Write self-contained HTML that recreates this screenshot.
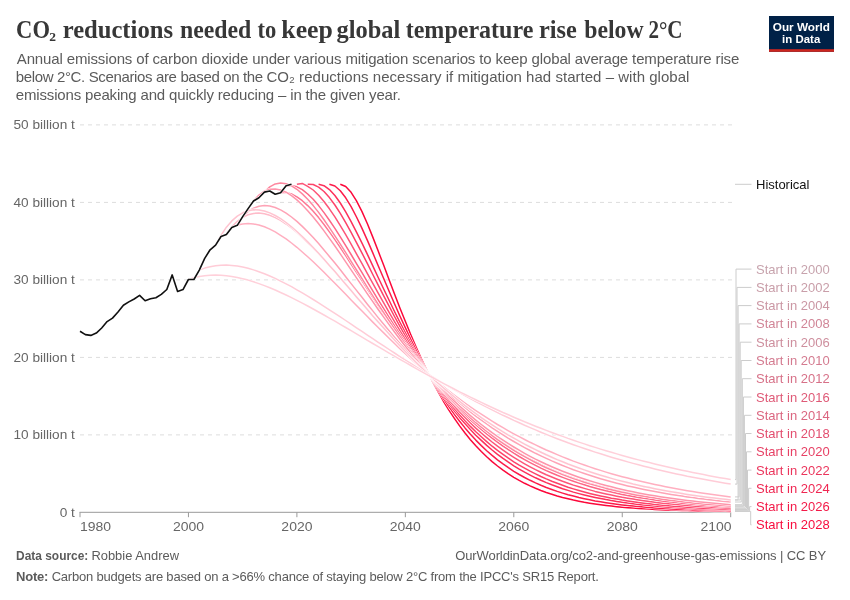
<!DOCTYPE html><html><head><meta charset="utf-8"><title>CO₂ reductions needed to keep global temperature rise below 2°C</title>
<style>html,body{margin:0;padding:0;background:#fff}svg{display:block}text{font-family:"Liberation Sans",sans-serif}.t{font-family:"Liberation Serif",serif;font-weight:700}</style></head><body>
<svg width="850" height="600" viewBox="0 0 850 600">
<rect width="850" height="600" fill="#fff"/>
<text class="t" font-size="24.7" fill="#373737"><tspan x="16.12" y="37.5" textLength="33.82" lengthAdjust="spacingAndGlyphs">CO</tspan><tspan x="49.2" y="41" font-size="13.5">2</tspan> <tspan x="62.67" y="37.5" textLength="110.32" lengthAdjust="spacingAndGlyphs">reductions</tspan> <tspan x="179.91" y="37.5" textLength="71.39" lengthAdjust="spacingAndGlyphs">needed</tspan> <tspan x="257.46" y="37.5" textLength="18.78" lengthAdjust="spacingAndGlyphs">to</tspan> <tspan x="281.33" y="37.5" textLength="51.55" lengthAdjust="spacingAndGlyphs">keep</tspan> <tspan x="336.48" y="37.5" textLength="63.82" lengthAdjust="spacingAndGlyphs">global</tspan> <tspan x="405.70" y="37.5" textLength="127.70" lengthAdjust="spacingAndGlyphs">temperature</tspan> <tspan x="538.89" y="37.5" textLength="37.83" lengthAdjust="spacingAndGlyphs">rise</tspan> <tspan x="584.30" y="37.5" textLength="59.30" lengthAdjust="spacingAndGlyphs">below</tspan> <tspan x="648.42" y="37.5" textLength="34.18" lengthAdjust="spacingAndGlyphs">2°C</tspan></text>
<text x="16.8" y="63.5" font-size="15" fill="#5b5b5b" letter-spacing="-0.135">Annual emissions of carbon dioxide under various mitigation scenarios to keep global average temperature rise</text>
<text x="15.8" y="81.5" font-size="15" fill="#5b5b5b" letter-spacing="-0.360">below 2°C. Scenarios are based on the</text>
<text x="266.5" y="81.5" font-size="15" fill="#5b5b5b" letter-spacing="0.030">CO₂ reductions necessary if mitigation had started – with global</text>
<text x="15.8" y="99.5" font-size="15" fill="#5b5b5b" letter-spacing="-0.160">emissions peaking and quickly reducing – in the given year.</text>
<rect x="769" y="16" width="65" height="35.8" fill="#002147"/><rect x="769" y="49.2" width="65" height="2.6" fill="#ce261e"/>
<text x="772.78" y="30.6" font-size="11.5" font-weight="700" fill="#fff" textLength="57.26" lengthAdjust="spacingAndGlyphs">Our World</text>
<text x="782.11" y="42.75" font-size="11.5" font-weight="700" fill="#fff" textLength="38.14" lengthAdjust="spacingAndGlyphs">in Data</text>
<line x1="80" x2="733" y1="434.90" y2="434.90" stroke="#ddd" stroke-width="1" stroke-dasharray="4,4"/>
<line x1="80" x2="733" y1="357.40" y2="357.40" stroke="#ddd" stroke-width="1" stroke-dasharray="4,4"/>
<line x1="80" x2="733" y1="279.90" y2="279.90" stroke="#ddd" stroke-width="1" stroke-dasharray="4,4"/>
<line x1="80" x2="733" y1="202.40" y2="202.40" stroke="#ddd" stroke-width="1" stroke-dasharray="4,4"/>
<line x1="80" x2="733" y1="124.90" y2="124.90" stroke="#ddd" stroke-width="1" stroke-dasharray="4,4"/>
<text x="59.71" y="516.7" font-size="13" fill="#666" textLength="15.19" lengthAdjust="spacingAndGlyphs">0 t</text>
<text x="13.42" y="439.2" font-size="13" fill="#666" textLength="61.48" lengthAdjust="spacingAndGlyphs">10 billion t</text>
<text x="13.42" y="361.7" font-size="13" fill="#666" textLength="61.48" lengthAdjust="spacingAndGlyphs">20 billion t</text>
<text x="13.42" y="284.2" font-size="13" fill="#666" textLength="61.48" lengthAdjust="spacingAndGlyphs">30 billion t</text>
<text x="13.42" y="206.7" font-size="13" fill="#666" textLength="61.48" lengthAdjust="spacingAndGlyphs">40 billion t</text>
<text x="13.42" y="129.2" font-size="13" fill="#666" textLength="61.48" lengthAdjust="spacingAndGlyphs">50 billion t</text>
<line x1="79.5" x2="731" y1="512.3" y2="512.3" stroke="#999" stroke-width="1"/>
<line x1="80.00" x2="80.00" y1="512.3" y2="517.2" stroke="#999" stroke-width="1"/>
<text x="80.00" y="530.5" font-size="13" fill="#666" textLength="31.09" lengthAdjust="spacingAndGlyphs">1980</text>
<line x1="188.45" x2="188.45" y1="512.3" y2="517.2" stroke="#999" stroke-width="1"/>
<text x="172.91" y="530.5" font-size="13" fill="#666" textLength="31.09" lengthAdjust="spacingAndGlyphs">2000</text>
<line x1="296.90" x2="296.90" y1="512.3" y2="517.2" stroke="#999" stroke-width="1"/>
<text x="281.36" y="530.5" font-size="13" fill="#666" textLength="31.09" lengthAdjust="spacingAndGlyphs">2020</text>
<line x1="405.35" x2="405.35" y1="512.3" y2="517.2" stroke="#999" stroke-width="1"/>
<text x="389.81" y="530.5" font-size="13" fill="#666" textLength="31.09" lengthAdjust="spacingAndGlyphs">2040</text>
<line x1="513.80" x2="513.80" y1="512.3" y2="517.2" stroke="#999" stroke-width="1"/>
<text x="498.26" y="530.5" font-size="13" fill="#666" textLength="31.09" lengthAdjust="spacingAndGlyphs">2060</text>
<line x1="622.25" x2="622.25" y1="512.3" y2="517.2" stroke="#999" stroke-width="1"/>
<text x="606.71" y="530.5" font-size="13" fill="#666" textLength="31.09" lengthAdjust="spacingAndGlyphs">2080</text>
<line x1="730.70" x2="730.70" y1="512.3" y2="517.2" stroke="#999" stroke-width="1"/>
<text x="700.51" y="530.5" font-size="13" fill="#666" textLength="31.09" lengthAdjust="spacingAndGlyphs">2100</text>
<polyline fill="none" stroke="#fff" stroke-width="2.5" stroke-linejoin="round" stroke-linecap="butt" points="340.3,184.3 345.7,186.5 351.1,192.3 356.5,200.9 362.0,211.6 367.4,223.8 372.8,237.1 378.2,251.1 383.7,265.3 389.1,279.7 394.5,294.0 399.9,308.0 405.4,321.5 410.8,334.7 416.2,347.2 421.6,359.2 427.0,370.6 432.5,381.4 437.9,391.5 443.3,401.0 448.7,409.8 454.2,418.1 459.6,425.9 465.0,433.0 470.4,439.7 475.8,445.8 481.3,451.5 486.7,456.7 492.1,461.6 497.5,466.0 503.0,470.1 508.4,473.8 513.8,477.3 519.2,480.4 524.6,483.3 530.1,485.9 535.5,488.3 540.9,490.5 546.3,492.5 551.8,494.3 557.2,496.0 562.6,497.5 568.0,498.8 573.4,500.1 578.9,501.2 584.3,502.3 589.7,503.2 595.1,504.0 600.6,504.8 606.0,505.5 611.4,506.1 616.8,506.7 622.2,507.2 627.7,507.7 633.1,508.1 638.5,508.5 643.9,508.8 649.4,509.1 654.8,509.4 660.2,509.7 665.6,509.9 671.1,510.1 676.5,510.3 681.9,510.5 687.3,510.6 692.7,510.8 698.2,510.9 703.6,511.0 709.0,511.1 714.4,511.2 719.9,511.3 725.3,511.3 730.7,511.4"/>
<polyline fill="none" stroke="#fc083a" stroke-width="1.5" stroke-linejoin="round" stroke-linecap="butt" points="340.3,184.3 345.7,186.5 351.1,192.3 356.5,200.9 362.0,211.6 367.4,223.8 372.8,237.1 378.2,251.1 383.7,265.3 389.1,279.7 394.5,294.0 399.9,308.0 405.4,321.5 410.8,334.7 416.2,347.2 421.6,359.2 427.0,370.6 432.5,381.4 437.9,391.5 443.3,401.0 448.7,409.8 454.2,418.1 459.6,425.9 465.0,433.0 470.4,439.7 475.8,445.8 481.3,451.5 486.7,456.7 492.1,461.6 497.5,466.0 503.0,470.1 508.4,473.8 513.8,477.3 519.2,480.4 524.6,483.3 530.1,485.9 535.5,488.3 540.9,490.5 546.3,492.5 551.8,494.3 557.2,496.0 562.6,497.5 568.0,498.8 573.4,500.1 578.9,501.2 584.3,502.3 589.7,503.2 595.1,504.0 600.6,504.8 606.0,505.5 611.4,506.1 616.8,506.7 622.2,507.2 627.7,507.7 633.1,508.1 638.5,508.5 643.9,508.8 649.4,509.1 654.8,509.4 660.2,509.7 665.6,509.9 671.1,510.1 676.5,510.3 681.9,510.5 687.3,510.6 692.7,510.8 698.2,510.9 703.6,511.0 709.0,511.1 714.4,511.2 719.9,511.3 725.3,511.3 730.7,511.4"/>
<polyline fill="none" stroke="#fff" stroke-width="2.5" stroke-linejoin="round" stroke-linecap="butt" points="329.4,184.3 334.9,186.0 340.3,190.7 345.7,197.8 351.1,206.7 356.5,217.0 362.0,228.4 367.4,240.4 372.8,252.9 378.2,265.7 383.7,278.5 389.1,291.2 394.5,303.7 399.9,316.0 405.4,327.9 410.8,339.4 416.2,350.4 421.6,361.0 427.0,371.1 432.5,380.7 437.9,389.8 443.3,398.3 448.7,406.4 454.2,414.1 459.6,421.2 465.0,427.9 470.4,434.2 475.8,440.1 481.3,445.6 486.7,450.7 492.1,455.4 497.5,459.8 503.0,463.9 508.4,467.7 513.8,471.3 519.2,474.5 524.6,477.5 530.1,480.3 535.5,482.9 540.9,485.3 546.3,487.5 551.8,489.5 557.2,491.4 562.6,493.1 568.0,494.7 573.4,496.1 578.9,497.5 584.3,498.7 589.7,499.8 595.1,500.9 600.6,501.8 606.0,502.7 611.4,503.5 616.8,504.2 622.2,504.9 627.7,505.5 633.1,506.1 638.5,506.6 643.9,507.1 649.4,507.5 654.8,507.9 660.2,508.3 665.6,508.6 671.1,508.9 676.5,509.2 681.9,509.4 687.3,509.6 692.7,509.9 698.2,510.0 703.6,510.2 709.0,510.4 714.4,510.5 719.9,510.7 725.3,510.8 730.7,510.9"/>
<polyline fill="none" stroke="#fc1c4a" stroke-width="1.5" stroke-linejoin="round" stroke-linecap="butt" points="329.4,184.3 334.9,186.0 340.3,190.7 345.7,197.8 351.1,206.7 356.5,217.0 362.0,228.4 367.4,240.4 372.8,252.9 378.2,265.7 383.7,278.5 389.1,291.2 394.5,303.7 399.9,316.0 405.4,327.9 410.8,339.4 416.2,350.4 421.6,361.0 427.0,371.1 432.5,380.7 437.9,389.8 443.3,398.3 448.7,406.4 454.2,414.1 459.6,421.2 465.0,427.9 470.4,434.2 475.8,440.1 481.3,445.6 486.7,450.7 492.1,455.4 497.5,459.8 503.0,463.9 508.4,467.7 513.8,471.3 519.2,474.5 524.6,477.5 530.1,480.3 535.5,482.9 540.9,485.3 546.3,487.5 551.8,489.5 557.2,491.4 562.6,493.1 568.0,494.7 573.4,496.1 578.9,497.5 584.3,498.7 589.7,499.8 595.1,500.9 600.6,501.8 606.0,502.7 611.4,503.5 616.8,504.2 622.2,504.9 627.7,505.5 633.1,506.1 638.5,506.6 643.9,507.1 649.4,507.5 654.8,507.9 660.2,508.3 665.6,508.6 671.1,508.9 676.5,509.2 681.9,509.4 687.3,509.6 692.7,509.9 698.2,510.0 703.6,510.2 709.0,510.4 714.4,510.5 719.9,510.7 725.3,510.8 730.7,510.9"/>
<polyline fill="none" stroke="#fff" stroke-width="2.5" stroke-linejoin="round" stroke-linecap="butt" points="318.6,184.3 324.0,185.7 329.4,189.6 334.9,195.5 340.3,203.0 345.7,211.8 351.1,221.6 356.5,232.1 362.0,243.1 367.4,254.4 372.8,265.9 378.2,277.5 383.7,289.0 389.1,300.3 394.5,311.5 399.9,322.3 405.4,332.9 410.8,343.1 416.2,353.0 421.6,362.4 427.0,371.5 432.5,380.1 437.9,388.4 443.3,396.2 448.7,403.6 454.2,410.7 459.6,417.4 465.0,423.6 470.4,429.6 475.8,435.2 481.3,440.4 486.7,445.4 492.1,450.0 497.5,454.3 503.0,458.4 508.4,462.2 513.8,465.8 519.2,469.1 524.6,472.2 530.1,475.1 535.5,477.8 540.9,480.3 546.3,482.6 551.8,484.8 557.2,486.8 562.6,488.7 568.0,490.4 573.4,492.1 578.9,493.6 584.3,495.0 589.7,496.3 595.1,497.5 600.6,498.6 606.0,499.6 611.4,500.6 616.8,501.5 622.2,502.3 627.7,503.0 633.1,503.7 638.5,504.4 643.9,505.0 649.4,505.5 654.8,506.0 660.2,506.5 665.6,506.9 671.1,507.3 676.5,507.7 681.9,508.1 687.3,508.4 692.7,508.7 698.2,508.9 703.6,509.2 709.0,509.4 714.4,509.6 719.9,509.8 725.3,510.0 730.7,510.1"/>
<polyline fill="none" stroke="#fd305a" stroke-width="1.5" stroke-linejoin="round" stroke-linecap="butt" points="318.6,184.3 324.0,185.7 329.4,189.6 334.9,195.5 340.3,203.0 345.7,211.8 351.1,221.6 356.5,232.1 362.0,243.1 367.4,254.4 372.8,265.9 378.2,277.5 383.7,289.0 389.1,300.3 394.5,311.5 399.9,322.3 405.4,332.9 410.8,343.1 416.2,353.0 421.6,362.4 427.0,371.5 432.5,380.1 437.9,388.4 443.3,396.2 448.7,403.6 454.2,410.7 459.6,417.4 465.0,423.6 470.4,429.6 475.8,435.2 481.3,440.4 486.7,445.4 492.1,450.0 497.5,454.3 503.0,458.4 508.4,462.2 513.8,465.8 519.2,469.1 524.6,472.2 530.1,475.1 535.5,477.8 540.9,480.3 546.3,482.6 551.8,484.8 557.2,486.8 562.6,488.7 568.0,490.4 573.4,492.1 578.9,493.6 584.3,495.0 589.7,496.3 595.1,497.5 600.6,498.6 606.0,499.6 611.4,500.6 616.8,501.5 622.2,502.3 627.7,503.0 633.1,503.7 638.5,504.4 643.9,505.0 649.4,505.5 654.8,506.0 660.2,506.5 665.6,506.9 671.1,507.3 676.5,507.7 681.9,508.1 687.3,508.4 692.7,508.7 698.2,508.9 703.6,509.2 709.0,509.4 714.4,509.6 719.9,509.8 725.3,510.0 730.7,510.1"/>
<polyline fill="none" stroke="#fff" stroke-width="2.5" stroke-linejoin="round" stroke-linecap="butt" points="307.7,184.3 313.2,184.5 318.6,187.1 324.0,191.5 329.4,197.6 334.9,205.0 340.3,213.4 345.7,222.6 351.1,232.3 356.5,242.6 362.0,253.1 367.4,263.7 372.8,274.5 378.2,285.2 383.7,295.8 389.1,306.2 394.5,316.5 399.9,326.4 405.4,336.1 410.8,345.5 416.2,354.6 421.6,363.3 427.0,371.7 432.5,379.8 437.9,387.4 443.3,394.8 448.7,401.8 454.2,408.4 459.6,414.7 465.0,420.7 470.4,426.4 475.8,431.8 481.3,436.8 486.7,441.6 492.1,446.2 497.5,450.4 503.0,454.4 508.4,458.2 513.8,461.8 519.2,465.1 524.6,468.2 530.1,471.2 535.5,473.9 540.9,476.5 546.3,478.9 551.8,481.2 557.2,483.3 562.6,485.3 568.0,487.2 573.4,488.9 578.9,490.5 584.3,492.0 589.7,493.4 595.1,494.7 600.6,495.9 606.0,497.1 611.4,498.2 616.8,499.1 622.2,500.1 627.7,500.9 633.1,501.7 638.5,502.5 643.9,503.2 649.4,503.8 654.8,504.4 660.2,504.9 665.6,505.5 671.1,505.9 676.5,506.4 681.9,506.8 687.3,507.2 692.7,507.5 698.2,507.9 703.6,508.2 709.0,508.5 714.4,508.7 719.9,509.0 725.3,509.2 730.7,509.4"/>
<polyline fill="none" stroke="#fd4369" stroke-width="1.5" stroke-linejoin="round" stroke-linecap="butt" points="307.7,184.3 313.2,184.5 318.6,187.1 324.0,191.5 329.4,197.6 334.9,205.0 340.3,213.4 345.7,222.6 351.1,232.3 356.5,242.6 362.0,253.1 367.4,263.7 372.8,274.5 378.2,285.2 383.7,295.8 389.1,306.2 394.5,316.5 399.9,326.4 405.4,336.1 410.8,345.5 416.2,354.6 421.6,363.3 427.0,371.7 432.5,379.8 437.9,387.4 443.3,394.8 448.7,401.8 454.2,408.4 459.6,414.7 465.0,420.7 470.4,426.4 475.8,431.8 481.3,436.8 486.7,441.6 492.1,446.2 497.5,450.4 503.0,454.4 508.4,458.2 513.8,461.8 519.2,465.1 524.6,468.2 530.1,471.2 535.5,473.9 540.9,476.5 546.3,478.9 551.8,481.2 557.2,483.3 562.6,485.3 568.0,487.2 573.4,488.9 578.9,490.5 584.3,492.0 589.7,493.4 595.1,494.7 600.6,495.9 606.0,497.1 611.4,498.2 616.8,499.1 622.2,500.1 627.7,500.9 633.1,501.7 638.5,502.5 643.9,503.2 649.4,503.8 654.8,504.4 660.2,504.9 665.6,505.5 671.1,505.9 676.5,506.4 681.9,506.8 687.3,507.2 692.7,507.5 698.2,507.9 703.6,508.2 709.0,508.5 714.4,508.7 719.9,509.0 725.3,509.2 730.7,509.4"/>
<polyline fill="none" stroke="#fff" stroke-width="2.5" stroke-linejoin="round" stroke-linecap="butt" points="296.9,184.3 302.3,183.4 307.7,186.3 313.2,190.0 318.6,195.2 324.0,201.5 329.4,208.8 334.9,216.9 340.3,225.6 345.7,234.7 351.1,244.2 356.5,253.9 362.0,263.7 367.4,273.6 372.8,283.4 378.2,293.2 383.7,302.9 389.1,312.4 394.5,321.6 399.9,330.7 405.4,339.5 410.8,348.1 416.2,356.4 421.6,364.3 427.0,372.0 432.5,379.4 437.9,386.5 443.3,393.3 448.7,399.8 454.2,406.1 459.6,412.0 465.0,417.6 470.4,423.0 475.8,428.1 481.3,433.0 486.7,437.6 492.1,442.0 497.5,446.2 503.0,450.1 508.4,453.8 513.8,457.3 519.2,460.7 524.6,463.8 530.1,466.8 535.5,469.6 540.9,472.2 546.3,474.7 551.8,477.0 557.2,479.2 562.6,481.3 568.0,483.2 573.4,485.1 578.9,486.8 584.3,488.4 589.7,489.9 595.1,491.4 600.6,492.7 606.0,493.9 611.4,495.1 616.8,496.2 622.2,497.3 627.7,498.2 633.1,499.1 638.5,500.0 643.9,500.8 649.4,501.5 654.8,502.2 660.2,502.9 665.6,503.5 671.1,504.1 676.5,504.6 681.9,505.1 687.3,505.6 692.7,506.0 698.2,506.4 703.6,506.8 709.0,507.1 714.4,507.5 719.9,507.8 725.3,508.1 730.7,508.3"/>
<polyline fill="none" stroke="#fd5578" stroke-width="1.5" stroke-linejoin="round" stroke-linecap="butt" points="296.9,184.3 302.3,183.4 307.7,186.3 313.2,190.0 318.6,195.2 324.0,201.5 329.4,208.8 334.9,216.9 340.3,225.6 345.7,234.7 351.1,244.2 356.5,253.9 362.0,263.7 367.4,273.6 372.8,283.4 378.2,293.2 383.7,302.9 389.1,312.4 394.5,321.6 399.9,330.7 405.4,339.5 410.8,348.1 416.2,356.4 421.6,364.3 427.0,372.0 432.5,379.4 437.9,386.5 443.3,393.3 448.7,399.8 454.2,406.1 459.6,412.0 465.0,417.6 470.4,423.0 475.8,428.1 481.3,433.0 486.7,437.6 492.1,442.0 497.5,446.2 503.0,450.1 508.4,453.8 513.8,457.3 519.2,460.7 524.6,463.8 530.1,466.8 535.5,469.6 540.9,472.2 546.3,474.7 551.8,477.0 557.2,479.2 562.6,481.3 568.0,483.2 573.4,485.1 578.9,486.8 584.3,488.4 589.7,489.9 595.1,491.4 600.6,492.7 606.0,493.9 611.4,495.1 616.8,496.2 622.2,497.3 627.7,498.2 633.1,499.1 638.5,500.0 643.9,500.8 649.4,501.5 654.8,502.2 660.2,502.9 665.6,503.5 671.1,504.1 676.5,504.6 681.9,505.1 687.3,505.6 692.7,506.0 698.2,506.4 703.6,506.8 709.0,507.1 714.4,507.5 719.9,507.8 725.3,508.1 730.7,508.3"/>
<polyline fill="none" stroke="#fff" stroke-width="2.5" stroke-linejoin="round" stroke-linecap="butt" points="286.1,185.8 291.5,185.4 296.9,186.8 302.3,189.7 307.7,194.0 313.2,199.3 318.6,205.6 324.0,212.6 329.4,220.2 334.9,228.3 340.3,236.8 345.7,245.6 351.1,254.5 356.5,263.6 362.0,272.7 367.4,281.8 372.8,290.9 378.2,299.8 383.7,308.7 389.1,317.4 394.5,325.9 399.9,334.1 405.4,342.2 410.8,350.1 416.2,357.7 421.6,365.0 427.0,372.1 432.5,379.0 437.9,385.6 443.3,391.9 448.7,398.0 454.2,403.9 459.6,409.5 465.0,414.8 470.4,419.9 475.8,424.8 481.3,429.5 486.7,434.0 492.1,438.2 497.5,442.2 503.0,446.1 508.4,449.7 513.8,453.2 519.2,456.5 524.6,459.6 530.1,462.6 535.5,465.4 540.9,468.1 546.3,470.6 551.8,473.0 557.2,475.3 562.6,477.4 568.0,479.4 573.4,481.3 578.9,483.1 584.3,484.8 589.7,486.5 595.1,488.0 600.6,489.4 606.0,490.8 611.4,492.0 616.8,493.2 622.2,494.4 627.7,495.5 633.1,496.5 638.5,497.4 643.9,498.3 649.4,499.1 654.8,499.9 660.2,500.7 665.6,501.4 671.1,502.0 676.5,502.6 681.9,503.2 687.3,503.8 692.7,504.3 698.2,504.8 703.6,505.2 709.0,505.6 714.4,506.0 719.9,506.4 725.3,506.8 730.7,507.1"/>
<polyline fill="none" stroke="#fd6786" stroke-width="1.5" stroke-linejoin="round" stroke-linecap="butt" points="286.1,185.8 291.5,185.4 296.9,186.8 302.3,189.7 307.7,194.0 313.2,199.3 318.6,205.6 324.0,212.6 329.4,220.2 334.9,228.3 340.3,236.8 345.7,245.6 351.1,254.5 356.5,263.6 362.0,272.7 367.4,281.8 372.8,290.9 378.2,299.8 383.7,308.7 389.1,317.4 394.5,325.9 399.9,334.1 405.4,342.2 410.8,350.1 416.2,357.7 421.6,365.0 427.0,372.1 432.5,379.0 437.9,385.6 443.3,391.9 448.7,398.0 454.2,403.9 459.6,409.5 465.0,414.8 470.4,419.9 475.8,424.8 481.3,429.5 486.7,434.0 492.1,438.2 497.5,442.2 503.0,446.1 508.4,449.7 513.8,453.2 519.2,456.5 524.6,459.6 530.1,462.6 535.5,465.4 540.9,468.1 546.3,470.6 551.8,473.0 557.2,475.3 562.6,477.4 568.0,479.4 573.4,481.3 578.9,483.1 584.3,484.8 589.7,486.5 595.1,488.0 600.6,489.4 606.0,490.8 611.4,492.0 616.8,493.2 622.2,494.4 627.7,495.5 633.1,496.5 638.5,497.4 643.9,498.3 649.4,499.1 654.8,499.9 660.2,500.7 665.6,501.4 671.1,502.0 676.5,502.6 681.9,503.2 687.3,503.8 692.7,504.3 698.2,504.8 703.6,505.2 709.0,505.6 714.4,506.0 719.9,506.4 725.3,506.8 730.7,507.1"/>
<polyline fill="none" stroke="#fff" stroke-width="2.5" stroke-linejoin="round" stroke-linecap="butt" points="275.2,194.3 280.6,192.5 286.1,192.5 291.5,194.0 296.9,196.8 302.3,200.7 307.7,205.6 313.2,211.3 318.6,217.6 324.0,224.5 329.4,231.9 334.9,239.6 340.3,247.5 345.7,255.7 351.1,264.0 356.5,272.4 362.0,280.7 367.4,289.1 372.8,297.4 378.2,305.7 383.7,313.8 389.1,321.7 394.5,329.5 399.9,337.2 405.4,344.6 410.8,351.9 416.2,358.9 421.6,365.8 427.0,372.4 432.5,378.8 437.9,385.0 443.3,390.9 448.7,396.7 454.2,402.2 459.6,407.5 465.0,412.6 470.4,417.5 475.8,422.2 481.3,426.7 486.7,431.0 492.1,435.1 497.5,439.0 503.0,442.8 508.4,446.4 513.8,449.8 519.2,453.1 524.6,456.2 530.1,459.1 535.5,461.9 540.9,464.6 546.3,467.1 551.8,469.6 557.2,471.9 562.6,474.1 568.0,476.1 573.4,478.1 578.9,480.0 584.3,481.7 589.7,483.4 595.1,485.0 600.6,486.5 606.0,487.9 611.4,489.3 616.8,490.6 622.2,491.8 627.7,492.9 633.1,494.0 638.5,495.0 643.9,496.0 649.4,496.9 654.8,497.8 660.2,498.6 665.6,499.4 671.1,500.1 676.5,500.8 681.9,501.4 687.3,502.1 692.7,502.6 698.2,503.2 703.6,503.7 709.0,504.2 714.4,504.6 719.9,505.1 725.3,505.5 730.7,505.9"/>
<polyline fill="none" stroke="#fe7793" stroke-width="1.5" stroke-linejoin="round" stroke-linecap="butt" points="275.2,194.3 280.6,192.5 286.1,192.5 291.5,194.0 296.9,196.8 302.3,200.7 307.7,205.6 313.2,211.3 318.6,217.6 324.0,224.5 329.4,231.9 334.9,239.6 340.3,247.5 345.7,255.7 351.1,264.0 356.5,272.4 362.0,280.7 367.4,289.1 372.8,297.4 378.2,305.7 383.7,313.8 389.1,321.7 394.5,329.5 399.9,337.2 405.4,344.6 410.8,351.9 416.2,358.9 421.6,365.8 427.0,372.4 432.5,378.8 437.9,385.0 443.3,390.9 448.7,396.7 454.2,402.2 459.6,407.5 465.0,412.6 470.4,417.5 475.8,422.2 481.3,426.7 486.7,431.0 492.1,435.1 497.5,439.0 503.0,442.8 508.4,446.4 513.8,449.8 519.2,453.1 524.6,456.2 530.1,459.1 535.5,461.9 540.9,464.6 546.3,467.1 551.8,469.6 557.2,471.9 562.6,474.1 568.0,476.1 573.4,478.1 578.9,480.0 584.3,481.7 589.7,483.4 595.1,485.0 600.6,486.5 606.0,487.9 611.4,489.3 616.8,490.6 622.2,491.8 627.7,492.9 633.1,494.0 638.5,495.0 643.9,496.0 649.4,496.9 654.8,497.8 660.2,498.6 665.6,499.4 671.1,500.1 676.5,500.8 681.9,501.4 687.3,502.1 692.7,502.6 698.2,503.2 703.6,503.7 709.0,504.2 714.4,504.6 719.9,505.1 725.3,505.5 730.7,505.9"/>
<polyline fill="none" stroke="#fff" stroke-width="2.5" stroke-linejoin="round" stroke-linecap="butt" points="264.4,192.1 269.8,186.9 275.2,183.9 280.6,182.9 286.1,183.7 291.5,185.9 296.9,189.3 302.3,193.9 307.7,199.3 313.2,205.6 318.6,212.4 324.0,219.8 329.4,227.6 334.9,235.8 340.3,244.1 345.7,252.6 351.1,261.3 356.5,270.0 362.0,278.6 367.4,287.3 372.8,295.8 378.2,304.3 383.7,312.6 389.1,320.8 394.5,328.7 399.9,336.5 405.4,344.1 410.8,351.5 416.2,358.7 421.6,365.6 427.0,372.4 432.5,378.8 437.9,385.1 443.3,391.1 448.7,396.9 454.2,402.5 459.6,407.9 465.0,413.0 470.4,418.0 475.8,422.7 481.3,427.2 486.7,431.5 492.1,435.6 497.5,439.6 503.0,443.3 508.4,446.9 513.8,450.4 519.2,453.6 524.6,456.7 530.1,459.7 535.5,462.5 540.9,465.2 546.3,467.7 551.8,470.1 557.2,472.4 562.6,474.6 568.0,476.6 573.4,478.6 578.9,480.4 584.3,482.2 589.7,483.9 595.1,485.4 600.6,486.9 606.0,488.4 611.4,489.7 616.8,491.0 622.2,492.2 627.7,493.3 633.1,494.4 638.5,495.4 643.9,496.3 649.4,497.2 654.8,498.1 660.2,498.9 665.6,499.7 671.1,500.4 676.5,501.1 681.9,501.7 687.3,502.3 692.7,502.9 698.2,503.4 703.6,503.9 709.0,504.4 714.4,504.8 719.9,505.3 725.3,505.7 730.7,506.0"/>
<polyline fill="none" stroke="#fe879f" stroke-width="1.5" stroke-linejoin="round" stroke-linecap="butt" points="264.4,192.1 269.8,186.9 275.2,183.9 280.6,182.9 286.1,183.7 291.5,185.9 296.9,189.3 302.3,193.9 307.7,199.3 313.2,205.6 318.6,212.4 324.0,219.8 329.4,227.6 334.9,235.8 340.3,244.1 345.7,252.6 351.1,261.3 356.5,270.0 362.0,278.6 367.4,287.3 372.8,295.8 378.2,304.3 383.7,312.6 389.1,320.8 394.5,328.7 399.9,336.5 405.4,344.1 410.8,351.5 416.2,358.7 421.6,365.6 427.0,372.4 432.5,378.8 437.9,385.1 443.3,391.1 448.7,396.9 454.2,402.5 459.6,407.9 465.0,413.0 470.4,418.0 475.8,422.7 481.3,427.2 486.7,431.5 492.1,435.6 497.5,439.6 503.0,443.3 508.4,446.9 513.8,450.4 519.2,453.6 524.6,456.7 530.1,459.7 535.5,462.5 540.9,465.2 546.3,467.7 551.8,470.1 557.2,472.4 562.6,474.6 568.0,476.6 573.4,478.6 578.9,480.4 584.3,482.2 589.7,483.9 595.1,485.4 600.6,486.9 606.0,488.4 611.4,489.7 616.8,491.0 622.2,492.2 627.7,493.3 633.1,494.4 638.5,495.4 643.9,496.3 649.4,497.2 654.8,498.1 660.2,498.9 665.6,499.7 671.1,500.4 676.5,501.1 681.9,501.7 687.3,502.3 692.7,502.9 698.2,503.4 703.6,503.9 709.0,504.4 714.4,504.8 719.9,505.3 725.3,505.7 730.7,506.0"/>
<polyline fill="none" stroke="#fff" stroke-width="2.5" stroke-linejoin="round" stroke-linecap="butt" points="253.5,201.0 258.9,195.1 264.4,191.2 269.8,189.2 275.2,188.9 280.6,189.9 286.1,192.2 291.5,195.6 296.9,199.9 302.3,205.0 307.7,210.7 313.2,217.0 318.6,223.8 324.0,230.9 329.4,238.4 334.9,246.0 340.3,253.9 345.7,261.8 351.1,269.8 356.5,277.8 362.0,285.8 367.4,293.8 372.8,301.7 378.2,309.5 383.7,317.1 389.1,324.6 394.5,332.0 399.9,339.2 405.4,346.3 410.8,353.1 416.2,359.8 421.6,366.3 427.0,372.5 432.5,378.6 437.9,384.5 443.3,390.2 448.7,395.6 454.2,400.9 459.6,406.0 465.0,410.9 470.4,415.6 475.8,420.1 481.3,424.5 486.7,428.7 492.1,432.7 497.5,436.5 503.0,440.2 508.4,443.7 513.8,447.0 519.2,450.2 524.6,453.3 530.1,456.3 535.5,459.1 540.9,461.7 546.3,464.3 551.8,466.7 557.2,469.0 562.6,471.2 568.0,473.3 573.4,475.3 578.9,477.2 584.3,479.0 589.7,480.8 595.1,482.4 600.6,484.0 606.0,485.4 611.4,486.8 616.8,488.2 622.2,489.5 627.7,490.7 633.1,491.8 638.5,492.9 643.9,493.9 649.4,494.9 654.8,495.8 660.2,496.7 665.6,497.5 671.1,498.3 676.5,499.1 681.9,499.8 687.3,500.4 692.7,501.1 698.2,501.7 703.6,502.3 709.0,502.8 714.4,503.3 719.9,503.8 725.3,504.2 730.7,504.7"/>
<polyline fill="none" stroke="#fe95ab" stroke-width="1.5" stroke-linejoin="round" stroke-linecap="butt" points="253.5,201.0 258.9,195.1 264.4,191.2 269.8,189.2 275.2,188.9 280.6,189.9 286.1,192.2 291.5,195.6 296.9,199.9 302.3,205.0 307.7,210.7 313.2,217.0 318.6,223.8 324.0,230.9 329.4,238.4 334.9,246.0 340.3,253.9 345.7,261.8 351.1,269.8 356.5,277.8 362.0,285.8 367.4,293.8 372.8,301.7 378.2,309.5 383.7,317.1 389.1,324.6 394.5,332.0 399.9,339.2 405.4,346.3 410.8,353.1 416.2,359.8 421.6,366.3 427.0,372.5 432.5,378.6 437.9,384.5 443.3,390.2 448.7,395.6 454.2,400.9 459.6,406.0 465.0,410.9 470.4,415.6 475.8,420.1 481.3,424.5 486.7,428.7 492.1,432.7 497.5,436.5 503.0,440.2 508.4,443.7 513.8,447.0 519.2,450.2 524.6,453.3 530.1,456.3 535.5,459.1 540.9,461.7 546.3,464.3 551.8,466.7 557.2,469.0 562.6,471.2 568.0,473.3 573.4,475.3 578.9,477.2 584.3,479.0 589.7,480.8 595.1,482.4 600.6,484.0 606.0,485.4 611.4,486.8 616.8,488.2 622.2,489.5 627.7,490.7 633.1,491.8 638.5,492.9 643.9,493.9 649.4,494.9 654.8,495.8 660.2,496.7 665.6,497.5 671.1,498.3 676.5,499.1 681.9,499.8 687.3,500.4 692.7,501.1 698.2,501.7 703.6,502.3 709.0,502.8 714.4,503.3 719.9,503.8 725.3,504.2 730.7,504.7"/>
<polyline fill="none" stroke="#fff" stroke-width="2.5" stroke-linejoin="round" stroke-linecap="butt" points="242.7,216.6 248.1,211.5 253.5,208.1 258.9,206.2 264.4,205.5 269.8,206.0 275.2,207.5 280.6,209.9 286.1,213.1 291.5,217.0 296.9,221.4 302.3,226.4 307.7,231.8 313.2,237.5 318.6,243.6 324.0,249.9 329.4,256.4 334.9,263.1 340.3,269.8 345.7,276.7 351.1,283.6 356.5,290.4 362.0,297.3 367.4,304.2 372.8,310.9 378.2,317.6 383.7,324.3 389.1,330.8 394.5,337.2 399.9,343.5 405.4,349.6 410.8,355.6 416.2,361.5 421.6,367.2 427.0,372.8 432.5,378.2 437.9,383.5 443.3,388.6 448.7,393.6 454.2,398.4 459.6,403.0 465.0,407.5 470.4,411.9 475.8,416.1 481.3,420.1 486.7,424.0 492.1,427.8 497.5,431.4 503.0,434.9 508.4,438.3 513.8,441.5 519.2,444.6 524.6,447.6 530.1,450.5 535.5,453.3 540.9,455.9 546.3,458.4 551.8,460.9 557.2,463.2 562.6,465.5 568.0,467.6 573.4,469.7 578.9,471.6 584.3,473.5 589.7,475.3 595.1,477.0 600.6,478.7 606.0,480.2 611.4,481.8 616.8,483.2 622.2,484.6 627.7,485.9 633.1,487.1 638.5,488.3 643.9,489.5 649.4,490.6 654.8,491.6 660.2,492.6 665.6,493.5 671.1,494.4 676.5,495.3 681.9,496.1 687.3,496.9 692.7,497.6 698.2,498.4 703.6,499.0 709.0,499.7 714.4,500.3 719.9,500.9 725.3,501.4 730.7,502.0"/>
<polyline fill="none" stroke="#fea3b6" stroke-width="1.5" stroke-linejoin="round" stroke-linecap="butt" points="242.7,216.6 248.1,211.5 253.5,208.1 258.9,206.2 264.4,205.5 269.8,206.0 275.2,207.5 280.6,209.9 286.1,213.1 291.5,217.0 296.9,221.4 302.3,226.4 307.7,231.8 313.2,237.5 318.6,243.6 324.0,249.9 329.4,256.4 334.9,263.1 340.3,269.8 345.7,276.7 351.1,283.6 356.5,290.4 362.0,297.3 367.4,304.2 372.8,310.9 378.2,317.6 383.7,324.3 389.1,330.8 394.5,337.2 399.9,343.5 405.4,349.6 410.8,355.6 416.2,361.5 421.6,367.2 427.0,372.8 432.5,378.2 437.9,383.5 443.3,388.6 448.7,393.6 454.2,398.4 459.6,403.0 465.0,407.5 470.4,411.9 475.8,416.1 481.3,420.1 486.7,424.0 492.1,427.8 497.5,431.4 503.0,434.9 508.4,438.3 513.8,441.5 519.2,444.6 524.6,447.6 530.1,450.5 535.5,453.3 540.9,455.9 546.3,458.4 551.8,460.9 557.2,463.2 562.6,465.5 568.0,467.6 573.4,469.7 578.9,471.6 584.3,473.5 589.7,475.3 595.1,477.0 600.6,478.7 606.0,480.2 611.4,481.8 616.8,483.2 622.2,484.6 627.7,485.9 633.1,487.1 638.5,488.3 643.9,489.5 649.4,490.6 654.8,491.6 660.2,492.6 665.6,493.5 671.1,494.4 676.5,495.3 681.9,496.1 687.3,496.9 692.7,497.6 698.2,498.4 703.6,499.0 709.0,499.7 714.4,500.3 719.9,500.9 725.3,501.4 730.7,502.0"/>
<polyline fill="none" stroke="#fff" stroke-width="2.5" stroke-linejoin="round" stroke-linecap="butt" points="231.8,227.4 237.3,225.1 242.7,223.9 248.1,223.5 253.5,223.9 258.9,225.0 264.4,226.8 269.8,229.1 275.2,231.9 280.6,235.3 286.1,238.9 291.5,243.0 296.9,247.3 302.3,252.0 307.7,256.8 313.2,261.8 318.6,267.0 324.0,272.3 329.4,277.7 334.9,283.2 340.3,288.7 345.7,294.3 351.1,299.9 356.5,305.5 362.0,311.0 367.4,316.6 372.8,322.1 378.2,327.5 383.7,332.9 389.1,338.3 394.5,343.5 399.9,348.7 405.4,353.8 410.8,358.7 416.2,363.6 421.6,368.4 427.0,373.1 432.5,377.7 437.9,382.2 443.3,386.6 448.7,390.9 454.2,395.0 459.6,399.1 465.0,403.0 470.4,406.9 475.8,410.6 481.3,414.2 486.7,417.7 492.1,421.1 497.5,424.5 503.0,427.7 508.4,430.8 513.8,433.8 519.2,436.7 524.6,439.5 530.1,442.3 535.5,444.9 540.9,447.5 546.3,450.0 551.8,452.3 557.2,454.6 562.6,456.9 568.0,459.0 573.4,461.1 578.9,463.1 584.3,465.0 589.7,466.9 595.1,468.7 600.6,470.4 606.0,472.1 611.4,473.7 616.8,475.2 622.2,476.7 627.7,478.1 633.1,479.5 638.5,480.8 643.9,482.1 649.4,483.3 654.8,484.5 660.2,485.6 665.6,486.7 671.1,487.8 676.5,488.8 681.9,489.7 687.3,490.7 692.7,491.6 698.2,492.4 703.6,493.2 709.0,494.0 714.4,494.8 719.9,495.5 725.3,496.2 730.7,496.9"/>
<polyline fill="none" stroke="#ffafc0" stroke-width="1.5" stroke-linejoin="round" stroke-linecap="butt" points="231.8,227.4 237.3,225.1 242.7,223.9 248.1,223.5 253.5,223.9 258.9,225.0 264.4,226.8 269.8,229.1 275.2,231.9 280.6,235.3 286.1,238.9 291.5,243.0 296.9,247.3 302.3,252.0 307.7,256.8 313.2,261.8 318.6,267.0 324.0,272.3 329.4,277.7 334.9,283.2 340.3,288.7 345.7,294.3 351.1,299.9 356.5,305.5 362.0,311.0 367.4,316.6 372.8,322.1 378.2,327.5 383.7,332.9 389.1,338.3 394.5,343.5 399.9,348.7 405.4,353.8 410.8,358.7 416.2,363.6 421.6,368.4 427.0,373.1 432.5,377.7 437.9,382.2 443.3,386.6 448.7,390.9 454.2,395.0 459.6,399.1 465.0,403.0 470.4,406.9 475.8,410.6 481.3,414.2 486.7,417.7 492.1,421.1 497.5,424.5 503.0,427.7 508.4,430.8 513.8,433.8 519.2,436.7 524.6,439.5 530.1,442.3 535.5,444.9 540.9,447.5 546.3,450.0 551.8,452.3 557.2,454.6 562.6,456.9 568.0,459.0 573.4,461.1 578.9,463.1 584.3,465.0 589.7,466.9 595.1,468.7 600.6,470.4 606.0,472.1 611.4,473.7 616.8,475.2 622.2,476.7 627.7,478.1 633.1,479.5 638.5,480.8 643.9,482.1 649.4,483.3 654.8,484.5 660.2,485.6 665.6,486.7 671.1,487.8 676.5,488.8 681.9,489.7 687.3,490.7 692.7,491.6 698.2,492.4 703.6,493.2 709.0,494.0 714.4,494.8 719.9,495.5 725.3,496.2 730.7,496.9"/>
<polyline fill="none" stroke="#fff" stroke-width="2.5" stroke-linejoin="round" stroke-linecap="butt" points="221.0,236.5 226.4,233.8 231.8,226.7 237.3,221.3 242.7,217.4 248.1,214.8 253.5,213.4 258.9,213.1 264.4,213.7 269.8,215.2 275.2,217.5 280.6,220.4 286.1,224.0 291.5,228.0 296.9,232.5 302.3,237.4 307.7,242.6 313.2,248.0 318.6,253.7 324.0,259.6 329.4,265.6 334.9,271.8 340.3,278.0 345.7,284.3 351.1,290.6 356.5,296.9 362.0,303.2 367.4,309.5 372.8,315.7 378.2,321.8 383.7,327.9 389.1,333.9 394.5,339.8 399.9,345.6 405.4,351.3 410.8,356.8 416.2,362.3 421.6,367.6 427.0,372.8 432.5,377.9 437.9,382.8 443.3,387.6 448.7,392.2 454.2,396.8 459.6,401.2 465.0,405.4 470.4,409.6 475.8,413.6 481.3,417.5 486.7,421.2 492.1,424.8 497.5,428.3 503.0,431.7 508.4,435.0 513.8,438.1 519.2,441.2 524.6,444.1 530.1,446.9 535.5,449.7 540.9,452.3 546.3,454.8 551.8,457.2 557.2,459.6 562.6,461.8 568.0,464.0 573.4,466.0 578.9,468.0 584.3,469.9 589.7,471.8 595.1,473.5 600.6,475.2 606.0,476.8 611.4,478.4 616.8,479.9 622.2,481.3 627.7,482.7 633.1,484.0 638.5,485.3 643.9,486.5 649.4,487.6 654.8,488.7 660.2,489.8 665.6,490.8 671.1,491.7 676.5,492.7 681.9,493.6 687.3,494.4 692.7,495.2 698.2,496.0 703.6,496.7 709.0,497.4 714.4,498.1 719.9,498.8 725.3,499.4 730.7,500.0"/>
<polyline fill="none" stroke="#ffbbc9" stroke-width="1.5" stroke-linejoin="round" stroke-linecap="butt" points="221.0,236.5 226.4,233.8 231.8,226.7 237.3,221.3 242.7,217.4 248.1,214.8 253.5,213.4 258.9,213.1 264.4,213.7 269.8,215.2 275.2,217.5 280.6,220.4 286.1,224.0 291.5,228.0 296.9,232.5 302.3,237.4 307.7,242.6 313.2,248.0 318.6,253.7 324.0,259.6 329.4,265.6 334.9,271.8 340.3,278.0 345.7,284.3 351.1,290.6 356.5,296.9 362.0,303.2 367.4,309.5 372.8,315.7 378.2,321.8 383.7,327.9 389.1,333.9 394.5,339.8 399.9,345.6 405.4,351.3 410.8,356.8 416.2,362.3 421.6,367.6 427.0,372.8 432.5,377.9 437.9,382.8 443.3,387.6 448.7,392.2 454.2,396.8 459.6,401.2 465.0,405.4 470.4,409.6 475.8,413.6 481.3,417.5 486.7,421.2 492.1,424.8 497.5,428.3 503.0,431.7 508.4,435.0 513.8,438.1 519.2,441.2 524.6,444.1 530.1,446.9 535.5,449.7 540.9,452.3 546.3,454.8 551.8,457.2 557.2,459.6 562.6,461.8 568.0,464.0 573.4,466.0 578.9,468.0 584.3,469.9 589.7,471.8 595.1,473.5 600.6,475.2 606.0,476.8 611.4,478.4 616.8,479.9 622.2,481.3 627.7,482.7 633.1,484.0 638.5,485.3 643.9,486.5 649.4,487.6 654.8,488.7 660.2,489.8 665.6,490.8 671.1,491.7 676.5,492.7 681.9,493.6 687.3,494.4 692.7,495.2 698.2,496.0 703.6,496.7 709.0,497.4 714.4,498.1 719.9,498.8 725.3,499.4 730.7,500.0"/>
<polyline fill="none" stroke="#fff" stroke-width="2.5" stroke-linejoin="round" stroke-linecap="butt" points="210.1,249.8 215.6,245.2 221.0,235.3 226.4,227.2 231.8,220.9 237.3,216.1 242.7,212.8 248.1,210.7 253.5,209.8 258.9,210.0 264.4,211.0 269.8,212.9 275.2,215.5 280.6,218.7 286.1,222.5 291.5,226.8 296.9,231.5 302.3,236.5 307.7,241.9 313.2,247.5 318.6,253.3 324.0,259.3 329.4,265.4 334.9,271.6 340.3,277.9 345.7,284.3 351.1,290.6 356.5,297.0 362.0,303.3 367.4,309.6 372.8,315.9 378.2,322.0 383.7,328.1 389.1,334.1 394.5,340.0 399.9,345.8 405.4,351.5 410.8,357.1 416.2,362.5 421.6,367.8 427.0,373.0 432.5,378.1 437.9,383.0 443.3,387.8 448.7,392.4 454.2,396.9 459.6,401.3 465.0,405.6 470.4,409.7 475.8,413.7 481.3,417.6 486.7,421.3 492.1,424.9 497.5,428.4 503.0,431.8 508.4,435.1 513.8,438.2 519.2,441.2 524.6,444.2 530.1,447.0 535.5,449.7 540.9,452.3 546.3,454.8 551.8,457.2 557.2,459.6 562.6,461.8 568.0,464.0 573.4,466.0 578.9,468.0 584.3,469.9 589.7,471.7 595.1,473.5 600.6,475.2 606.0,476.8 611.4,478.4 616.8,479.9 622.2,481.3 627.7,482.6 633.1,484.0 638.5,485.2 643.9,486.4 649.4,487.6 654.8,488.7 660.2,489.7 665.6,490.7 671.1,491.7 676.5,492.6 681.9,493.5 687.3,494.4 692.7,495.2 698.2,495.9 703.6,496.7 709.0,497.4 714.4,498.1 719.9,498.7 725.3,499.3 730.7,499.9"/>
<polyline fill="none" stroke="#ffc4d0" stroke-width="1.5" stroke-linejoin="round" stroke-linecap="butt" points="210.1,249.8 215.6,245.2 221.0,235.3 226.4,227.2 231.8,220.9 237.3,216.1 242.7,212.8 248.1,210.7 253.5,209.8 258.9,210.0 264.4,211.0 269.8,212.9 275.2,215.5 280.6,218.7 286.1,222.5 291.5,226.8 296.9,231.5 302.3,236.5 307.7,241.9 313.2,247.5 318.6,253.3 324.0,259.3 329.4,265.4 334.9,271.6 340.3,277.9 345.7,284.3 351.1,290.6 356.5,297.0 362.0,303.3 367.4,309.6 372.8,315.9 378.2,322.0 383.7,328.1 389.1,334.1 394.5,340.0 399.9,345.8 405.4,351.5 410.8,357.1 416.2,362.5 421.6,367.8 427.0,373.0 432.5,378.1 437.9,383.0 443.3,387.8 448.7,392.4 454.2,396.9 459.6,401.3 465.0,405.6 470.4,409.7 475.8,413.7 481.3,417.6 486.7,421.3 492.1,424.9 497.5,428.4 503.0,431.8 508.4,435.1 513.8,438.2 519.2,441.2 524.6,444.2 530.1,447.0 535.5,449.7 540.9,452.3 546.3,454.8 551.8,457.2 557.2,459.6 562.6,461.8 568.0,464.0 573.4,466.0 578.9,468.0 584.3,469.9 589.7,471.7 595.1,473.5 600.6,475.2 606.0,476.8 611.4,478.4 616.8,479.9 622.2,481.3 627.7,482.6 633.1,484.0 638.5,485.2 643.9,486.4 649.4,487.6 654.8,488.7 660.2,489.7 665.6,490.7 671.1,491.7 676.5,492.6 681.9,493.5 687.3,494.4 692.7,495.2 698.2,495.9 703.6,496.7 709.0,497.4 714.4,498.1 719.9,498.7 725.3,499.3 730.7,499.9"/>
<polyline fill="none" stroke="#fff" stroke-width="2.5" stroke-linejoin="round" stroke-linecap="butt" points="199.3,270.1 204.7,268.1 210.1,266.7 215.6,265.7 221.0,265.2 226.4,265.1 231.8,265.4 237.3,266.1 242.7,267.0 248.1,268.3 253.5,269.9 258.9,271.7 264.4,273.7 269.8,276.0 275.2,278.4 280.6,281.1 286.1,283.8 291.5,286.7 296.9,289.8 302.3,292.9 307.7,296.1 313.2,299.5 318.6,302.9 324.0,306.3 329.4,309.8 334.9,313.4 340.3,316.9 345.7,320.5 351.1,324.2 356.5,327.8 362.0,331.4 367.4,335.1 372.8,338.7 378.2,342.3 383.7,345.9 389.1,349.5 394.5,353.0 399.9,356.6 405.4,360.1 410.8,363.5 416.2,366.9 421.6,370.3 427.0,373.7 432.5,377.0 437.9,380.2 443.3,383.4 448.7,386.6 454.2,389.7 459.6,392.7 465.0,395.7 470.4,398.7 475.8,401.6 481.3,404.4 486.7,407.2 492.1,409.9 497.5,412.6 503.0,415.3 508.4,417.8 513.8,420.4 519.2,422.8 524.6,425.3 530.1,427.6 535.5,429.9 540.9,432.2 546.3,434.4 551.8,436.6 557.2,438.7 562.6,440.7 568.0,442.8 573.4,444.7 578.9,446.6 584.3,448.5 589.7,450.3 595.1,452.1 600.6,453.8 606.0,455.5 611.4,457.2 616.8,458.8 622.2,460.3 627.7,461.9 633.1,463.4 638.5,464.8 643.9,466.2 649.4,467.6 654.8,468.9 660.2,470.2 665.6,471.5 671.1,472.7 676.5,473.9 681.9,475.0 687.3,476.2 692.7,477.2 698.2,478.3 703.6,479.3 709.0,480.3 714.4,481.3 719.9,482.3 725.3,483.2 730.7,484.1"/>
<polyline fill="none" stroke="#ffccd7" stroke-width="1.5" stroke-linejoin="round" stroke-linecap="butt" points="199.3,270.1 204.7,268.1 210.1,266.7 215.6,265.7 221.0,265.2 226.4,265.1 231.8,265.4 237.3,266.1 242.7,267.0 248.1,268.3 253.5,269.9 258.9,271.7 264.4,273.7 269.8,276.0 275.2,278.4 280.6,281.1 286.1,283.8 291.5,286.7 296.9,289.8 302.3,292.9 307.7,296.1 313.2,299.5 318.6,302.9 324.0,306.3 329.4,309.8 334.9,313.4 340.3,316.9 345.7,320.5 351.1,324.2 356.5,327.8 362.0,331.4 367.4,335.1 372.8,338.7 378.2,342.3 383.7,345.9 389.1,349.5 394.5,353.0 399.9,356.6 405.4,360.1 410.8,363.5 416.2,366.9 421.6,370.3 427.0,373.7 432.5,377.0 437.9,380.2 443.3,383.4 448.7,386.6 454.2,389.7 459.6,392.7 465.0,395.7 470.4,398.7 475.8,401.6 481.3,404.4 486.7,407.2 492.1,409.9 497.5,412.6 503.0,415.3 508.4,417.8 513.8,420.4 519.2,422.8 524.6,425.3 530.1,427.6 535.5,429.9 540.9,432.2 546.3,434.4 551.8,436.6 557.2,438.7 562.6,440.7 568.0,442.8 573.4,444.7 578.9,446.6 584.3,448.5 589.7,450.3 595.1,452.1 600.6,453.8 606.0,455.5 611.4,457.2 616.8,458.8 622.2,460.3 627.7,461.9 633.1,463.4 638.5,464.8 643.9,466.2 649.4,467.6 654.8,468.9 660.2,470.2 665.6,471.5 671.1,472.7 676.5,473.9 681.9,475.0 687.3,476.2 692.7,477.2 698.2,478.3 703.6,479.3 709.0,480.3 714.4,481.3 719.9,482.3 725.3,483.2 730.7,484.1"/>
<polyline fill="none" stroke="#fff" stroke-width="2.5" stroke-linejoin="round" stroke-linecap="butt" points="188.4,279.5 193.9,277.8 199.3,276.6 204.7,275.7 210.1,275.2 215.6,275.1 221.0,275.3 226.4,275.7 231.8,276.5 237.3,277.5 242.7,278.7 248.1,280.1 253.5,281.8 258.9,283.6 264.4,285.6 269.8,287.8 275.2,290.0 280.6,292.5 286.1,295.0 291.5,297.6 296.9,300.3 302.3,303.1 307.7,306.0 313.2,309.0 318.6,312.0 324.0,315.0 329.4,318.1 334.9,321.2 340.3,324.4 345.7,327.5 351.1,330.7 356.5,333.9 362.0,337.1 367.4,340.3 372.8,343.5 378.2,346.7 383.7,349.9 389.1,353.1 394.5,356.2 399.9,359.3 405.4,362.4 410.8,365.5 416.2,368.6 421.6,371.6 427.0,374.6 432.5,377.5 437.9,380.4 443.3,383.3 448.7,386.2 454.2,389.0 459.6,391.8 465.0,394.5 470.4,397.2 475.8,399.8 481.3,402.4 486.7,405.0 492.1,407.5 497.5,410.0 503.0,412.5 508.4,414.8 513.8,417.2 519.2,419.5 524.6,421.8 530.1,424.0 535.5,426.2 540.9,428.3 546.3,430.4 551.8,432.5 557.2,434.5 562.6,436.4 568.0,438.4 573.4,440.2 578.9,442.1 584.3,443.9 589.7,445.7 595.1,447.4 600.6,449.1 606.0,450.7 611.4,452.3 616.8,453.9 622.2,455.5 627.7,457.0 633.1,458.4 638.5,459.9 643.9,461.3 649.4,462.6 654.8,464.0 660.2,465.3 665.6,466.6 671.1,467.8 676.5,469.0 681.9,470.2 687.3,471.3 692.7,472.5 698.2,473.6 703.6,474.6 709.0,475.7 714.4,476.7 719.9,477.7 725.3,478.6 730.7,479.6"/>
<polyline fill="none" stroke="#ffd0da" stroke-width="1.5" stroke-linejoin="round" stroke-linecap="butt" points="188.4,279.5 193.9,277.8 199.3,276.6 204.7,275.7 210.1,275.2 215.6,275.1 221.0,275.3 226.4,275.7 231.8,276.5 237.3,277.5 242.7,278.7 248.1,280.1 253.5,281.8 258.9,283.6 264.4,285.6 269.8,287.8 275.2,290.0 280.6,292.5 286.1,295.0 291.5,297.6 296.9,300.3 302.3,303.1 307.7,306.0 313.2,309.0 318.6,312.0 324.0,315.0 329.4,318.1 334.9,321.2 340.3,324.4 345.7,327.5 351.1,330.7 356.5,333.9 362.0,337.1 367.4,340.3 372.8,343.5 378.2,346.7 383.7,349.9 389.1,353.1 394.5,356.2 399.9,359.3 405.4,362.4 410.8,365.5 416.2,368.6 421.6,371.6 427.0,374.6 432.5,377.5 437.9,380.4 443.3,383.3 448.7,386.2 454.2,389.0 459.6,391.8 465.0,394.5 470.4,397.2 475.8,399.8 481.3,402.4 486.7,405.0 492.1,407.5 497.5,410.0 503.0,412.5 508.4,414.8 513.8,417.2 519.2,419.5 524.6,421.8 530.1,424.0 535.5,426.2 540.9,428.3 546.3,430.4 551.8,432.5 557.2,434.5 562.6,436.4 568.0,438.4 573.4,440.2 578.9,442.1 584.3,443.9 589.7,445.7 595.1,447.4 600.6,449.1 606.0,450.7 611.4,452.3 616.8,453.9 622.2,455.5 627.7,457.0 633.1,458.4 638.5,459.9 643.9,461.3 649.4,462.6 654.8,464.0 660.2,465.3 665.6,466.6 671.1,467.8 676.5,469.0 681.9,470.2 687.3,471.3 692.7,472.5 698.2,473.6 703.6,474.6 709.0,475.7 714.4,476.7 719.9,477.7 725.3,478.6 730.7,479.6"/>
<polyline fill="none" stroke="#fff" stroke-width="2.6" stroke-linejoin="round" points="80.0,331.2 85.4,334.6 90.8,335.4 96.3,333.1 101.7,328.0 107.1,321.6 112.5,318.1 118.0,312.0 123.4,305.3 128.8,301.9 134.2,299.0 139.6,295.4 145.1,300.8 150.5,298.8 155.9,297.7 161.3,294.4 166.8,289.5 172.2,274.9 177.6,291.4 183.0,289.6 188.4,279.5 193.9,279.5 199.3,270.1 204.7,258.4 210.1,249.8 215.6,245.2 221.0,236.5 226.4,234.4 231.8,227.4 237.3,225.3 242.7,216.6 248.1,208.6 253.5,201.0 258.9,197.7 264.4,192.1 269.8,191.0 275.2,194.3 280.6,192.8 286.1,185.8 291.5,184.3"/>
<polyline fill="none" stroke="#111" stroke-width="1.6" stroke-linejoin="round" points="80.0,331.2 85.4,334.6 90.8,335.4 96.3,333.1 101.7,328.0 107.1,321.6 112.5,318.1 118.0,312.0 123.4,305.3 128.8,301.9 134.2,299.0 139.6,295.4 145.1,300.8 150.5,298.8 155.9,297.7 161.3,294.4 166.8,289.5 172.2,274.9 177.6,291.4 183.0,289.6 188.4,279.5 193.9,279.5 199.3,270.1 204.7,258.4 210.1,249.8 215.6,245.2 221.0,236.5 226.4,234.4 231.8,227.4 237.3,225.3 242.7,216.6 248.1,208.6 253.5,201.0 258.9,197.7 264.4,192.1 269.8,191.0 275.2,194.3 280.6,192.8 286.1,185.8 291.5,184.3"/>
<line x1="735" x2="751.5" y1="184.3" y2="184.3" stroke="#ccc" stroke-width="1"/>
<text x="756" y="188.8" font-size="13" fill="#111">Historical</text>
<text x="756" y="273.6" font-size="13" fill="#c7a3ad">Start in 2000</text>
<path d="M735,479.6 H736.0 V269.1 H751.5" fill="none" stroke="#ccc" stroke-width="1"/>
<text x="756" y="291.9" font-size="13" fill="#c99ea9">Start in 2002</text>
<path d="M735,484.1 H737.0 V287.4 H751.5" fill="none" stroke="#ccc" stroke-width="1"/>
<text x="756" y="310.1" font-size="13" fill="#cb97a4">Start in 2004</text>
<path d="M735,499.9 H738.1 V305.6 H751.5" fill="none" stroke="#ccc" stroke-width="1"/>
<text x="756" y="328.4" font-size="13" fill="#d18597">Start in 2008</text>
<path d="M735,496.9 H739.1 V323.9 H751.5" fill="none" stroke="#ccc" stroke-width="1"/>
<text x="756" y="346.7" font-size="13" fill="#ce8f9e">Start in 2006</text>
<path d="M735,500.0 H740.2 V342.2 H751.5" fill="none" stroke="#ccc" stroke-width="1"/>
<text x="756" y="365.0" font-size="13" fill="#d47b90">Start in 2010</text>
<path d="M735,502.0 H741.2 V360.5 H751.5" fill="none" stroke="#ccc" stroke-width="1"/>
<text x="756" y="383.2" font-size="13" fill="#d77188">Start in 2012</text>
<path d="M735,504.7 H742.3 V378.7 H751.5" fill="none" stroke="#ccc" stroke-width="1"/>
<text x="756" y="401.5" font-size="13" fill="#df5a77">Start in 2016</text>
<path d="M735,505.9 H743.4 V397.0 H751.5" fill="none" stroke="#ccc" stroke-width="1"/>
<text x="756" y="419.8" font-size="13" fill="#db6680">Start in 2014</text>
<path d="M735,506.0 H744.4 V415.3 H751.5" fill="none" stroke="#ccc" stroke-width="1"/>
<text x="756" y="438.0" font-size="13" fill="#e34e6f">Start in 2018</text>
<path d="M735,507.1 H745.5 V433.5 H751.5" fill="none" stroke="#ccc" stroke-width="1"/>
<text x="756" y="456.3" font-size="13" fill="#e74165">Start in 2020</text>
<path d="M735,508.3 H746.5 V451.8 H751.5" fill="none" stroke="#ccc" stroke-width="1"/>
<text x="756" y="474.6" font-size="13" fill="#eb355c">Start in 2022</text>
<path d="M735,509.4 H747.5 V470.1 H751.5" fill="none" stroke="#ccc" stroke-width="1"/>
<text x="756" y="492.8" font-size="13" fill="#ef2752">Start in 2024</text>
<path d="M735,510.1 H748.6 V488.3 H751.5" fill="none" stroke="#ccc" stroke-width="1"/>
<text x="756" y="511.1" font-size="13" fill="#f31a48">Start in 2026</text>
<path d="M735,510.9 H749.6 V506.6 H751.5" fill="none" stroke="#ccc" stroke-width="1"/>
<text x="756" y="529.4" font-size="13" fill="#f80c3e">Start in 2028</text>
<path d="M735,511.4 H750.7 V524.9 H751.5" fill="none" stroke="#ccc" stroke-width="1"/>
<text x="16.08" y="560.3" font-size="13" font-weight="700" fill="#5b5b5b" textLength="72.2" lengthAdjust="spacingAndGlyphs">Data source:</text>
<text x="91.41" y="560.3" font-size="13" fill="#5b5b5b" textLength="87.56" lengthAdjust="spacingAndGlyphs">Robbie Andrew</text>
<text x="826" y="560.3" font-size="13" fill="#5b5b5b" text-anchor="end" letter-spacing="-0.1">OurWorldinData.org/co2-and-greenhouse-gas-emissions | CC BY</text>
<text x="16" y="581" font-size="13" fill="#5b5b5b" letter-spacing="-0.2"><tspan font-weight="700">Note:</tspan> Carbon budgets are based on a &gt;66% chance of staying below 2°C from the IPCC's SR15 Report.</text>
</svg></body></html>
